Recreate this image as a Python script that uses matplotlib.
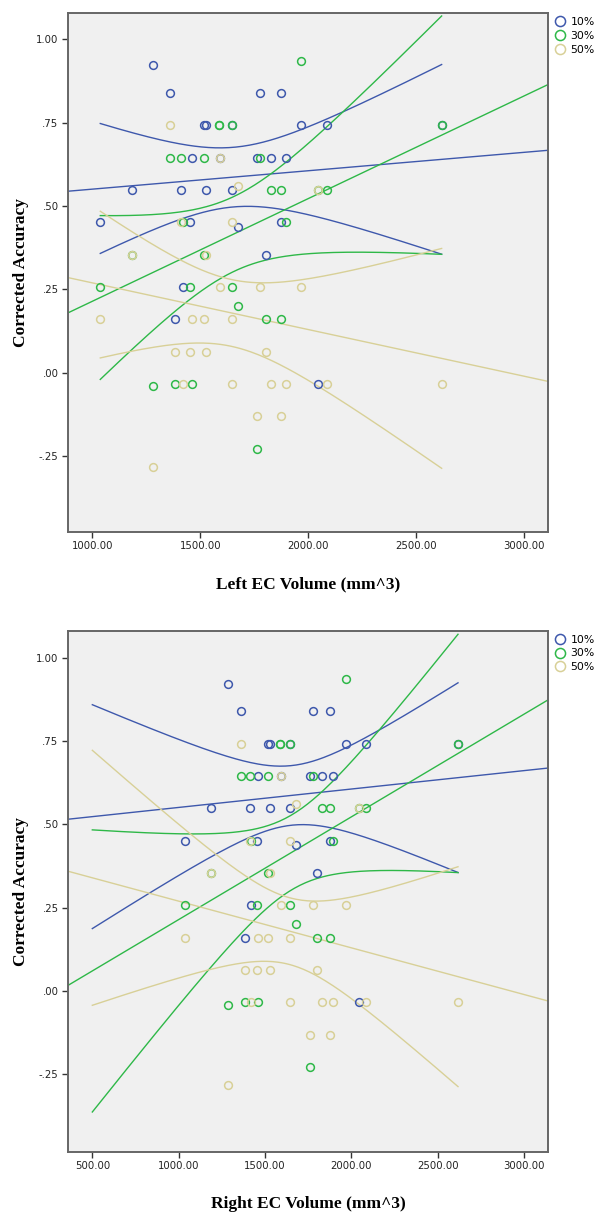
import numpy as np
import matplotlib
matplotlib.use("Agg")
import matplotlib.pyplot as plt

# EC volume (mm^3) and corrected accuracy for each delay group
x10 = [1037, 1185, 1283, 1362, 1385, 1412, 1420, 1453, 1461, 1519, 1527, 1527, 1592,
       1647, 1647, 1677, 1762, 1777, 1804, 1828, 1876, 1896, 1876, 1967, 2047, 2088, 2618]
y10 = [0.451, 0.548, 0.922, 0.840, 0.160, 0.548, 0.257, 0.451, 0.645, 0.742, 0.742, 0.548, 0.645,
       0.742, 0.548, 0.438, 0.645, 0.840, 0.353, 0.645, 0.840, 0.645, 0.451, 0.742, -0.034, 0.742, 0.742]

x30 = [1037, 1185, 1283, 1362, 1385, 1412, 1420, 1453, 1461, 1519, 1519, 1586, 1586,
       1647, 1647, 1677, 1777, 1762, 1804, 1828, 1876, 1896, 1876, 1967, 2047, 2088, 2618]
y30 = [0.257, 0.353, -0.041, 0.645, -0.034, 0.645, 0.451, 0.257, -0.034, 0.645, 0.353, 0.742, 0.742,
       0.742, 0.257, 0.200, 0.645, -0.229, 0.160, 0.548, 0.548, 0.451, 0.160, 0.936, 0.548, 0.548, 0.742]

x50 = [1037, 1185, 1283, 1362, 1385, 1412, 1420, 1453, 1461, 1519, 1527, 1527, 1592, 1592,
       1647, 1647, 1647, 1677, 1777, 1762, 1804, 1828, 1896, 1876, 1967, 2047, 2088, 2618]
y50 = [0.160, 0.353, -0.282, 0.742, 0.063, 0.451, -0.034, 0.063, 0.160, 0.160, 0.063, 0.353, 0.645, 0.257,
       0.451, 0.160, -0.034, 0.560, 0.257, -0.131, 0.063, -0.034, -0.034, -0.131, 0.257, 0.548, -0.034, -0.034]

groups = ["10%", "30%", "50%"]
colors = ["#3E58AC", "#2EB848", "#D8D097"]
series = [(x10, y10), (x30, y30), (x50, y50)]

# x span over which the confidence curves are drawn, per panel
panels = [
    {"xlabel": "Left EC Volume (mm^3)", "xlim": (889, 3112), "ylim": (-0.477, 1.078),
     "xticks": [1000, 1500, 2000, 2500, 3000], "band": (1037, 2618),
     "rect": [0.1135, 0.5631, 0.7973, 0.4260]},
    {"xlabel": "Right EC Volume (mm^3)", "xlim": (361, 3141), "ylim": (-0.482, 1.080),
     "xticks": [500, 1000, 1500, 2000, 2500, 3000], "band": (500, 2618),
     "rect": [0.1135, 0.0537, 0.7973, 0.4279]},
]
yticks = [1.0, 0.75, 0.5, 0.25, 0.0, -0.25]
ylabels = ["1.00", ".75", ".50", ".25", ".00", "-.25"]

t_crit = 2.06  # two-sided 95% t value, ~25 df

fig = plt.figure(figsize=(6.02, 12.17), dpi=100)

for p in panels:
    ax = fig.add_axes(p["rect"])
    ax.set_facecolor("#F0F0F0")
    for (xs, ys), c, g in zip(series, colors, groups):
        xs = np.array(xs, dtype=float)
        ys = np.array(ys, dtype=float)
        ax.plot(xs, ys, "o", mfc="none", mec=c, mew=1.1, ms=5.6, label=g, zorder=3)

        # linear fit with 95% confidence band for the mean
        slope, icpt = np.polyfit(xs, ys, 1)
        n = len(xs)
        resid = ys - (icpt + slope * xs)
        s = np.sqrt(np.sum(resid ** 2) / (n - 2))
        mx = xs.mean()
        sxx = np.sum((xs - mx) ** 2)

        xl = np.linspace(p["xlim"][0], p["xlim"][1], 50)
        ax.plot(xl, icpt + slope * xl, color=c, lw=1.0, zorder=2)

        xb = np.linspace(p["band"][0], p["band"][1], 200)
        yb = icpt + slope * xb
        hw = t_crit * s * np.sqrt(1.0 / n + (xb - mx) ** 2 / sxx)
        ax.plot(xb, yb + hw, color=c, lw=1.0, zorder=2)
        ax.plot(xb, yb - hw, color=c, lw=1.0, zorder=2)

    ax.set_xlim(p["xlim"])
    ax.set_ylim(p["ylim"])
    ax.set_xticks(p["xticks"])
    ax.set_xticklabels(["%.2f" % v for v in p["xticks"]])
    ax.set_yticks(yticks)
    ax.set_yticklabels(ylabels)
    ax.tick_params(direction="out", length=4, width=1, color="#333333",
                   labelsize=7.3, labelcolor="#222222", pad=3)
    for sp in ax.spines.values():
        sp.set_color("#666666")
        sp.set_linewidth(1.4)

    ax.set_xlabel(p["xlabel"], family="Liberation Serif", fontweight="bold",
                  fontsize=12.5, labelpad=18)
    ax.set_ylabel("Corrected Accuracy", family="Liberation Serif", fontweight="bold",
                  fontsize=12.5, labelpad=5)

    leg = ax.legend(loc="upper left", bbox_to_anchor=(1.008, 0.997), frameon=False,
                    fontsize=7.8, handlelength=1.0, handletextpad=0.5, labelspacing=0.35,
                    borderaxespad=0, borderpad=0.2, markerscale=1.3)

fig.savefig("out.png", dpi=100)
